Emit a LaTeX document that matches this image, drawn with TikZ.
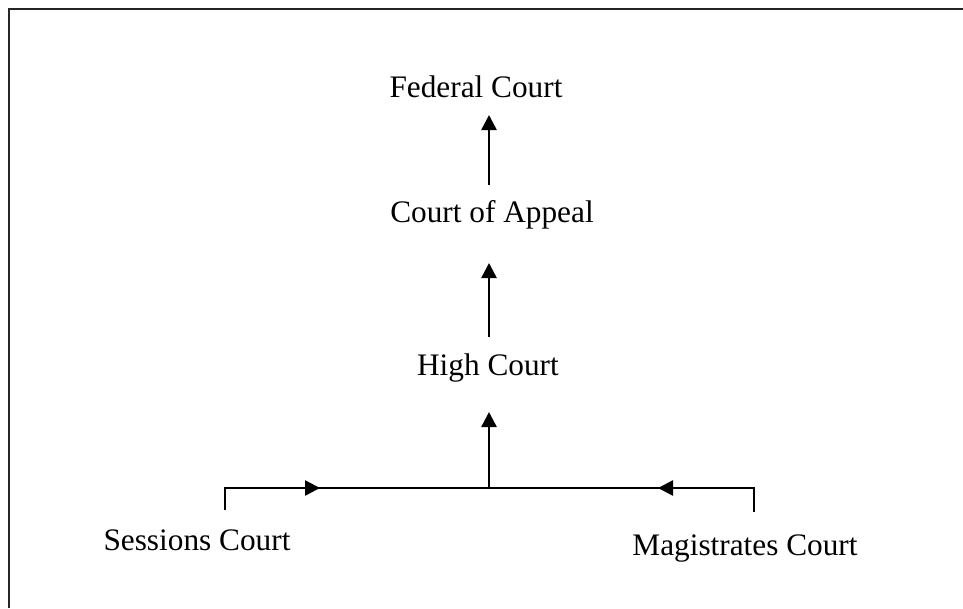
\documentclass[tikz,border=0pt]{standalone}
\usepackage{fontspec}
\setmainfont{Liberation Serif}
\usetikzlibrary{arrows.meta,positioning}

\begin{document}
\begin{tikzpicture}[
    x=1pt, y=-1pt,
    court/.style={font=\fontsize{31.3}{38}\selectfont, inner sep=0pt, outer sep=0pt, text height=23pt, text depth=7pt},
    arr/.style={-{Triangle[length=15pt, width=15pt]}, line width=2.5pt},
    link/.style={line width=1.3pt}
]
\useasboundingbox (0,0) rectangle (963,608);
\draw[line width=2pt, black!85] (9,608) -- (9,9) -- (963,9);

\node[court, anchor=base] (high) at (488,375) {High Court};
\node[court, above=123pt of high, xshift=4pt] (appeal) {Court of Appeal};
\node[court, above=95pt of appeal, xshift=-16pt] (fed) {Federal Court};
\node[court, anchor=base] (sessions) at (197,550) {Sessions Court};
\node[court, anchor=base] (magistrates) at (745,555) {Magistrates Court};

\coordinate (join) at (489,488);
\coordinate (lcorner) at (225,488);
\coordinate (rcorner) at (754,488);
\coordinate (ltip) at (320,488);
\coordinate (rtip) at (658,488);

\draw[link, shorten <=17pt, shorten >=20pt] (sessions.north -| lcorner) -- (lcorner) -- (rcorner) -- (magistrates.north -| rcorner);
\draw[arr] (lcorner) -- (ltip);
\draw[arr] (rcorner) -- (rtip);
\draw[arr, shorten >=30pt] (join) -- (high.south -| join);
\draw[arr, shorten <=15pt, shorten >=34pt] (high.north -| join) -- (appeal.south -| join);
\draw[arr, shorten <=14pt, shorten >=11pt] (appeal.north -| join) -- (fed.south -| join);
\end{tikzpicture}
\end{document}
